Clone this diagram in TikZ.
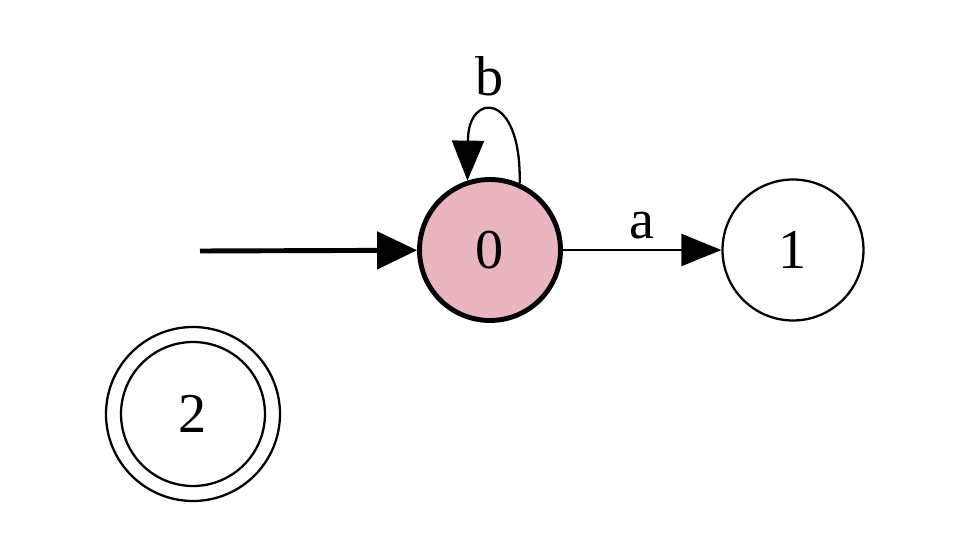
\documentclass[tikz,border=0pt]{standalone}
\usepackage{fontspec}
\setmainfont{Liberation Serif}
\usetikzlibrary{arrows.meta}
\definecolor{statepink}{RGB}{235,181,192}
\begin{document}
\begin{tikzpicture}[x=0.02cm,y=-0.02cm,
  state/.style={circle,draw,line width=1.3pt,minimum size=2.82cm,inner sep=0pt,font=\fontsize{32}{38}\selectfont},
  lbl/.style={font=\fontsize{32}{38}\selectfont},
  edge/.style={line width=1.3pt,-{Triangle[length=0.8cm,width=0.64cm]}}]
\useasboundingbox[fill=white] (0,0) rectangle (958,544);
\node[state,fill=statepink,line width=2.8pt] (n0) at (490,250) {0};
\node[state] (n1) at (793,250) {1};
\node[state,minimum size=2.88cm] (n2) at (193,414) {2};
\draw[line width=1.3pt] (n2) circle[radius=87];
\coordinate (start) at (200,251);
\coordinate (loopbend) at (468,140);
\draw[line width=2.8pt,-{Triangle[length=0.8cm,width=0.74cm]}] (start) -- (n0);
\draw[edge] (n0) -- node[lbl,above=2pt] {a} (n1);
\draw[edge] (n0.66) .. controls +(2,-93) and +(0,-48) .. (loopbend) -- (n0.108);
\node[lbl] (b) at (490,76) {b};
\end{tikzpicture}
\end{document}
